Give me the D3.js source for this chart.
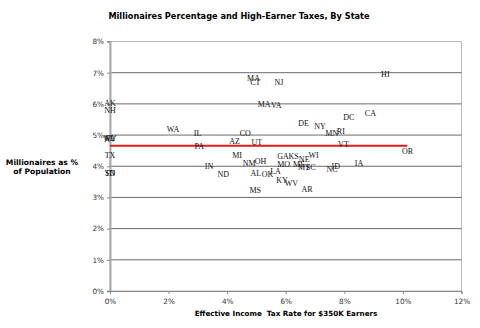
<!DOCTYPE html>
<html>
<head>
<meta charset="utf-8">
<script src="https://cdn.jsdelivr.net/npm/d3@7/dist/d3.min.js"></script>
<style>
  body { margin: 0; background: #fff; }
  svg { display: block; }
</style>
</head>
<body>
<svg width="480" height="328"></svg>
<script>
// labels as printed on the reference (the second "MA" near 6% is shown that way)
const states = ['AK','NH','FL','NV','WY','TX','SD','TN','WA','IL','PA',
  'MA','CT','NJ','MA','VA','DE','NY','MN','RI','CO','AZ','UT','MI',
  'GA','KS','NE','WI','NM','OH','MO','ME','MT','SC','IN','ND','AL',
  'OK','LA','KY','WV','MS','AR','ID','NC','IA','OR','VT','DC','CA','HI'];
const taxRate = [0,0,0,0,0,0,0,0,2.15,2.99,3.05,
  4.9,4.96,5.77,5.26,5.68,6.61,7.17,7.57,7.88,4.62,4.25,5.01,4.34,
  5.91,6.27,6.63,6.95,4.75,5.14,5.93,6.45,6.62,6.85,3.38,3.87,4.98,
  5.38,5.65,5.87,6.19,4.96,6.73,7.71,7.58,8.5,10.16,7.97,8.15,8.89,9.4];
const millionairePct = [6.02,5.8,4.9,4.87,4.89,4.36,3.78,3.78,5.19,5.05,4.63,
  6.82,6.68,6.71,5.99,5.95,5.39,5.29,5.06,5.13,5.07,4.79,4.77,4.36,
  4.33,4.33,4.22,4.36,4.09,4.17,4.06,4.07,3.97,3.97,4.0,3.75,3.79,
  3.75,3.85,3.56,3.45,3.24,3.26,4.0,3.9,4.11,4.47,4.7,5.56,5.69,6.95];
const avgLineX = [0, 10.15];
const avgLineY = [4.66, 4.66];
const xTicks = [0,2,4,6,8,10,12];
const yTicks = [0,1,2,3,4,5,6,7,8];

const svg = d3.select('svg');
const x = d3.scaleLinear().domain([0, 12]).range([110, 461.5]);
const y = d3.scaleLinear().domain([0, 8]).range([291, 41.5]);

// frame
svg.append('rect')
  .attr('x', x(0)).attr('y', y(8))
  .attr('width', x(12) - x(0)).attr('height', y(0) - y(8))
  .attr('fill', 'none').attr('stroke', '#bbb').attr('stroke-width', 1);

// grid
svg.append('g').selectAll('line')
  .data(yTicks.filter(d => d > 0 && d < 8))
  .join('line')
  .attr('x1', x(0)).attr('x2', x(12))
  .attr('y1', d => y(d)).attr('y2', d => y(d))
  .attr('stroke', '#6a6a6a').attr('stroke-width', 1);

// axes
const yAxis = d3.axisLeft(y).tickValues(yTicks).tickFormat(d => d + '%').tickSize(3).tickPadding(3);
const xAxis = d3.axisBottom(x).tickValues(xTicks).tickFormat(d => d + '%').tickSize(3).tickPadding(5);

const yAxisG = svg.append('g').attr('transform', `translate(${x(0)},0)`).call(yAxis);
const xAxisG = svg.append('g').attr('transform', `translate(0,${y(0)})`).call(xAxis);
[yAxisG, xAxisG].forEach(g => {
  g.selectAll('text').attr('font-family', 'DejaVu Sans, Verdana, sans-serif')
    .attr('font-size', 7.3).attr('fill', '#333');
  g.selectAll('.tick line').attr('stroke', '#888');
});
yAxisG.select('.domain').attr('stroke', '#aaa').attr('stroke-width', 2);
xAxisG.select('.domain').attr('stroke', '#888').attr('stroke-width', 1);

// average line
const line = d3.line().x(d => x(d[0])).y(d => y(d[1]));
svg.append('path')
  .datum(avgLineX.map((v, i) => [v, avgLineY[i]]))
  .attr('d', line)
  .attr('fill', 'none').attr('stroke', '#e41a1c').attr('stroke-width', 2);

// state labels as markers
svg.append('g').selectAll('text')
  .data(states)
  .join('text')
  .attr('x', (d, i) => x(taxRate[i]))
  .attr('y', (d, i) => y(millionairePct[i]))
  .attr('dy', '0.35em')
  .attr('text-anchor', 'middle')
  .attr('font-family', 'Liberation Serif, Times New Roman, serif')
  .attr('font-size', 8)
  .attr('fill', '#111')
  .text(d => d);

// titles
svg.append('text')
  .attr('x', 239).attr('y', 19)
  .attr('text-anchor', 'middle')
  .attr('font-family', 'DejaVu Sans, Verdana, sans-serif')
  .attr('font-weight', 'bold').attr('font-size', 8.2)
  .text('Millionaires Percentage and High-Earner Taxes, By State');

svg.append('text')
  .attr('x', 286).attr('y', 316)
  .attr('text-anchor', 'middle')
  .attr('font-family', 'DejaVu Sans, Verdana, sans-serif')
  .attr('font-weight', 'bold').attr('font-size', 7.2)
  .attr('xml:space', 'preserve')
  .text('Effective Income  Tax Rate for $350K Earners');

const yTitle = svg.append('text')
  .attr('text-anchor', 'middle')
  .attr('font-family', 'DejaVu Sans, Verdana, sans-serif')
  .attr('font-weight', 'bold').attr('font-size', 7.6);
yTitle.append('tspan').attr('x', 42).attr('y', 165).text('Millionaires as %');
yTitle.append('tspan').attr('x', 42).attr('y', 174).text('of Population');
</script>
</body>
</html>
